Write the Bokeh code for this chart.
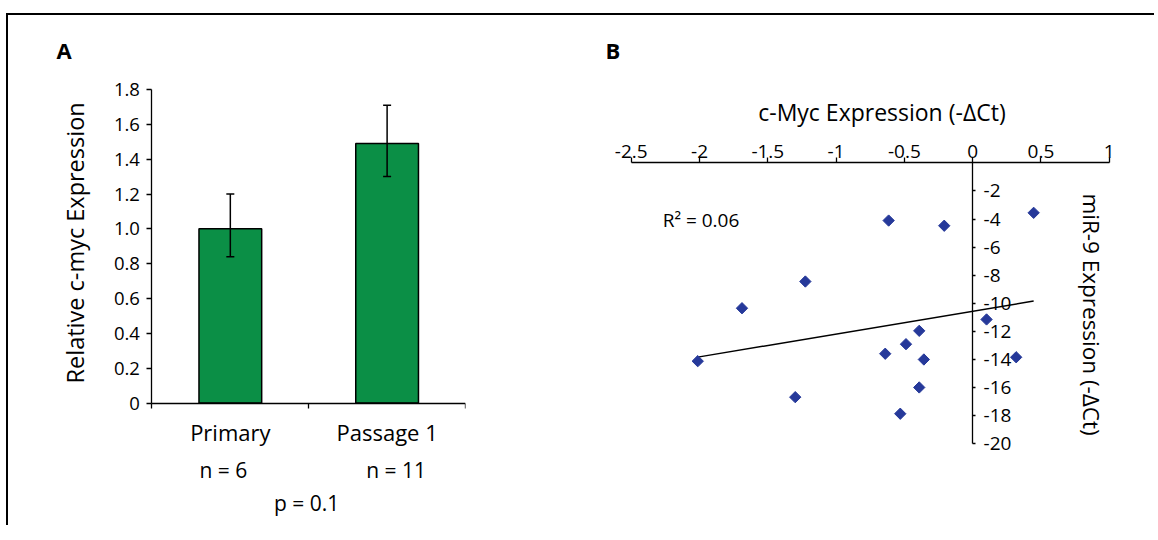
import numpy as np
from bokeh.plotting import figure
from bokeh.models import (LinearAxis, FixedTicker, Range1d, ColumnDataSource,
                          Whisker, TeeHead, Label)
from bokeh.layouts import row
from bokeh.embed import file_html
from bokeh.resources import INLINE

# ---------------- data ----------------
# Panel A: relative c-myc expression
groups = ["Primary", "Passage 1"]
group_n = ["n = 6", "n = 11"]
mean_expr = [1.00, 1.49]
err_low = [0.84, 1.30]
err_high = [1.20, 1.71]
p_value_text = "p = 0.1"
a_ylabel = "Relative  c-myc Expression"
a_yticks = [0, 0.2, 0.4, 0.6, 0.8, 1.0, 1.2, 1.4, 1.6, 1.8]

# Panel B: c-Myc vs miR-9 (-dCt)
cmyc = [-0.615, -0.208, 0.447, -1.225, -1.689, -2.013, -0.640, -1.299,
        -0.488, -0.391, -0.357, -0.391, -0.530, 0.102, 0.319]
mir9 = [-4.11, -4.48, -3.56, -8.45, -10.35, -14.12, -13.59, -16.68,
        -12.91, -11.96, -14.00, -15.99, -17.86, -11.15, -13.84]
b_xlabel = "c-Myc Expression (-ΔCt)"
b_ylabel = "miR-9 Expression (-ΔCt)"
b_xticks = [-2.5, -2, -1.5, -1, -0.5, 0, 0.5, 1]
b_yticks = [-2, -4, -6, -8, -10, -12, -14, -16, -18, -20]

FONT = "Open Sans"
BLACK = "#000000"
GREEN = "#0b8f46"
BLUE = "#26399a"

# shared vertical layout (both panels use the same frame rows)
TOP, FRAME_H, BOTTOM = 60, 443, 7


def style_axis(ax, label_size="18.5px"):
    ax.axis_line_color = BLACK
    ax.axis_line_width = 1.3
    ax.major_tick_line_color = BLACK
    ax.major_tick_line_width = 1.3
    ax.minor_tick_line_color = BLACK
    ax.minor_tick_line_width = 1.3
    ax.major_label_text_font = FONT
    ax.major_label_text_font_size = label_size
    ax.major_label_text_color = BLACK
    ax.axis_label_text_font = FONT
    ax.axis_label_text_font_style = "normal"
    ax.axis_label_text_color = BLACK


def style_title(p, offset, standoff):
    p.title.align = "left"
    p.title.offset = offset
    p.title.standoff = standoff
    p.title.text_font = FONT
    p.title.text_font_style = "bold"
    p.title.text_font_size = "22px"
    p.title.text_color = BLACK


def text_label(**kw):
    kw.setdefault("text_font", FONT)
    kw.setdefault("text_color", BLACK)
    return Label(**kw)


# ---------------- panel A ----------------
pA = figure(title="A", frame_width=415, frame_height=FRAME_H,
            min_border_left=42, min_border_right=115,
            min_border_top=TOP, min_border_bottom=BOTTOM,
            x_range=Range1d(-0.647, len(groups)), y_range=Range1d(-0.6627, 1.8804),
            x_axis_type=None, y_axis_type=None,
            toolbar_location=None, output_backend="svg",
            outline_line_color=None)
style_title(pA, 6, 22)

centers = [i + 0.5 for i in range(len(groups))]
bounds = list(range(len(groups) + 1))
srcA = ColumnDataSource(dict(x=centers, top=mean_expr, lower=err_low, upper=err_high))
pA.vbar(x="x", top="top", bottom=0, width=0.4, source=srcA,
        fill_color=GREEN, line_color=BLACK, line_width=1.5)
pA.add_layout(Whisker(base="x", lower="lower", upper="upper", source=srcA,
                      level="annotation", line_color=BLACK, line_width=1.5,
                      upper_head=TeeHead(size=8, line_width=1.5, line_color=BLACK),
                      lower_head=TeeHead(size=8, line_width=1.5, line_color=BLACK)))

ya = LinearAxis(fixed_location=0, ticker=FixedTicker(ticks=a_yticks, minor_ticks=[]),
                bounds=(a_yticks[0], a_yticks[-1]),
                major_label_overrides={t: ("0" if t == 0 else f"{t:.1f}") for t in a_yticks})
style_axis(ya)
ya.major_tick_out = 5
ya.major_tick_in = 0
ya.major_label_standoff = 7
pA.add_layout(ya, "left")

xa = LinearAxis(fixed_location=0, ticker=FixedTicker(ticks=centers, minor_ticks=bounds),
                bounds=(0, len(groups)),
                major_label_overrides=dict(zip(centers, groups)))
style_axis(xa, "22px")
xa.major_tick_line_color = None
xa.major_tick_out = 0
xa.major_tick_in = 0
xa.minor_tick_out = 5
xa.minor_tick_in = 0
xa.major_label_standoff = 9
pA.add_layout(xa, "below")

pA.add_layout(text_label(x=-0.488, y=0.937, angle=np.pi / 2, text=a_ylabel,
                         text_font_size="23.5px", text_align="center",
                         text_baseline="alphabetic"))
for cx, txt, dx in zip(centers, group_n, [-7, 9]):
    pA.add_layout(text_label(x=cx, y=-0.386, x_offset=dx, text=txt,
                             text_font_size="21px", text_align="center",
                             text_baseline="middle"))
pA.add_layout(text_label(x=len(groups) / 2, y=-0.576, x_offset=-2, text=p_value_text,
                         text_font_size="21px", text_align="center",
                         text_baseline="middle"))

# ---------------- panel B ----------------
pB = figure(title="B", frame_width=538, frame_height=FRAME_H,
            min_border_left=33, min_border_right=3,
            min_border_top=TOP, min_border_bottom=BOTTOM,
            x_range=Range1d(-2.63, 1.31), y_range=Range1d(-25.317, 6.214),
            x_axis_type=None, y_axis_type=None,
            toolbar_location=None, output_backend="svg",
            outline_line_color=None)
style_title(pB, -8, 22)

xb = LinearAxis(fixed_location=0, ticker=FixedTicker(ticks=b_xticks, minor_ticks=[]),
                bounds=(b_xticks[0], b_xticks[-1]),
                major_label_overrides={t: f"{t:g}" for t in b_xticks})
style_axis(xb, "19px")
xb.major_tick_out = 5
xb.major_tick_in = 0
xb.major_label_standoff = 0
pB.add_layout(xb, "above")

yb = LinearAxis(fixed_location=0, ticker=FixedTicker(ticks=b_yticks, minor_ticks=[]),
                bounds=(min(b_yticks), 0),
                major_label_overrides={t: f"{t:g}" for t in b_yticks})
style_axis(yb, "19px")
yb.major_tick_out = 3
yb.major_tick_in = 0
yb.major_label_standoff = 8
pB.add_layout(yb, "right")

pB.add_layout(text_label(x=-0.664, y=3.65, text=b_xlabel,
                         text_font_size="23px", text_align="center",
                         text_baseline="middle"))
pB.add_layout(text_label(x=0.873, y=-10.80, angle=-np.pi / 2, text=b_ylabel,
                         text_font_size="22.5px", text_align="center",
                         text_baseline="alphabetic"))

slope, intercept = np.polyfit(cmyc, mir9, 1)
r2 = np.corrcoef(cmyc, mir9)[0, 1] ** 2
fit_x = [min(cmyc), max(cmyc)]
fit_y = [slope * v + intercept for v in fit_x]
pB.line(fit_x, fit_y, line_color=BLACK, line_width=1.5)

pB.scatter(x=cmyc, y=mir9, marker="square", angle=np.pi / 4, size=8,
           fill_color=BLUE, line_color=BLUE)

pB.add_layout(text_label(x=-2.27, y=-4.04, text=f"R\u00b2 = {r2:.2f}",
                         text_font_size="19px", text_baseline="middle"))

layout = row(pA, pB, styles={"margin-top": "13px", "margin-left": "6px",
                             "border-top": "2px solid #000",
                             "border-left": "2px solid #000"})

open("out.html", "w").write(file_html(layout, INLINE))
